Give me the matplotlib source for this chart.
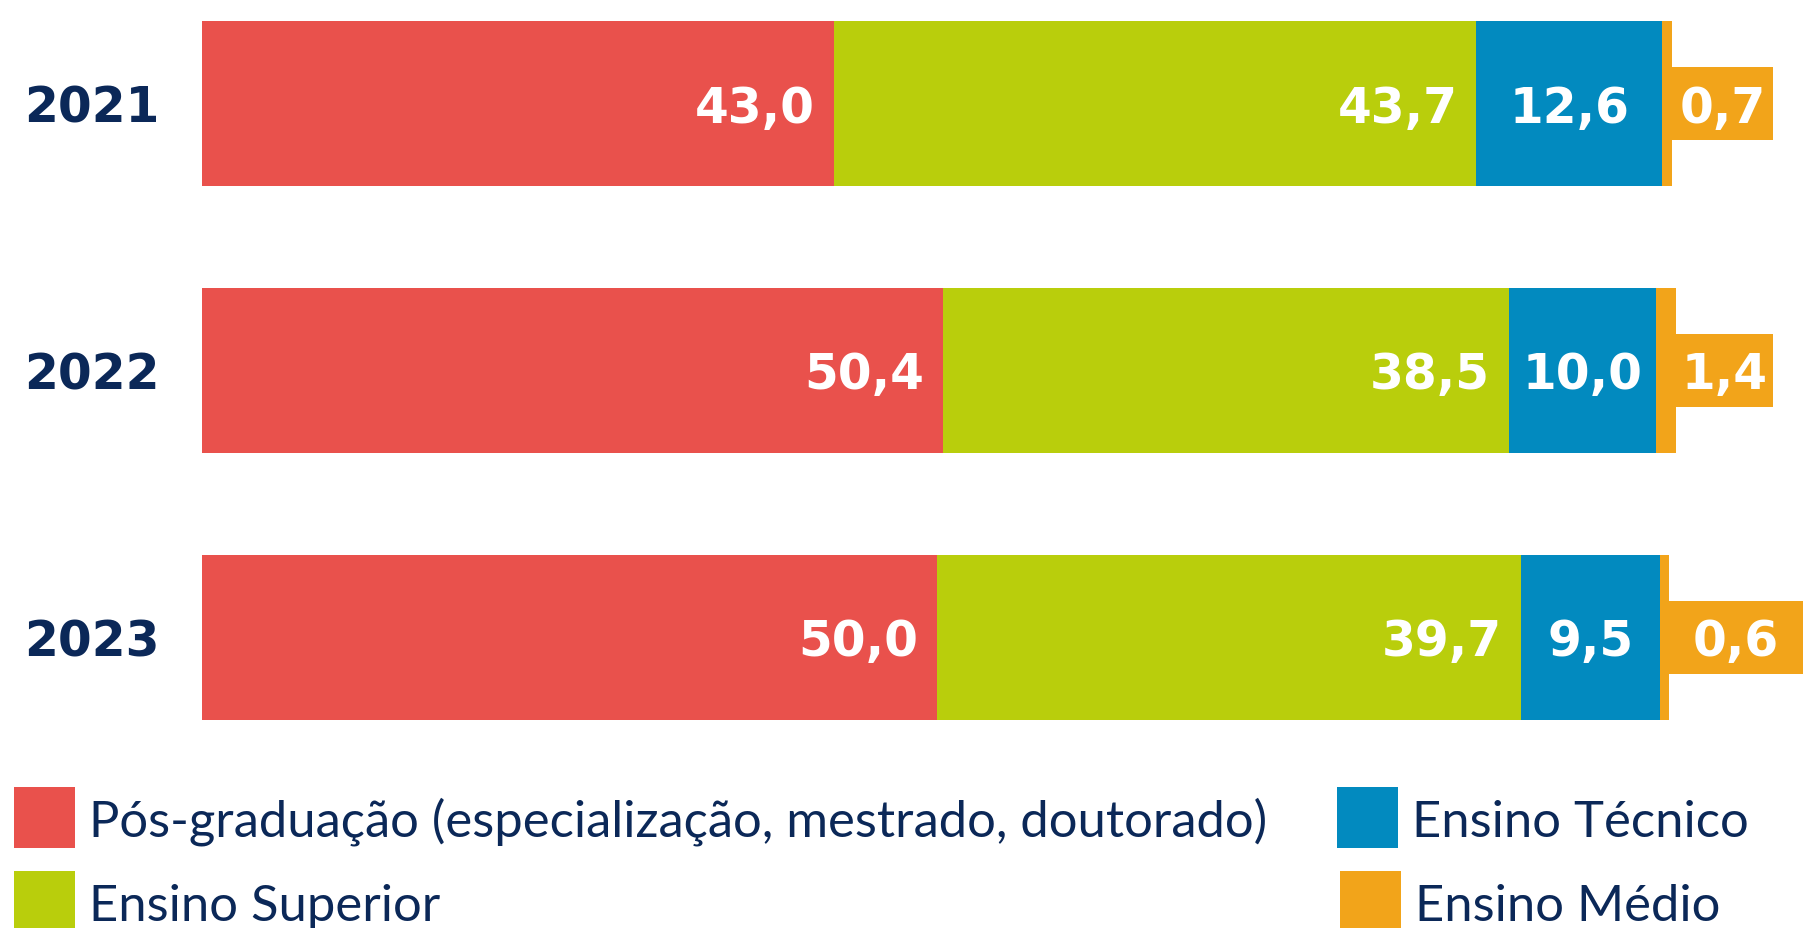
import matplotlib
matplotlib.use("Agg")
import matplotlib.pyplot as plt
import matplotlib.patches as mpatches

# ─── Colours ──────────────────────────────────────────────────────────────
RED    = "#E9514C"
GREEN  = "#B9CE0C"
BLUE   = "#028ABF"
ORANGE = "#F2A41A"
NAVY   = "#0B2858"

# ─── Data ─────────────────────────────────────────────────────────────────
years = ["2021", "2022", "2023"]
categories = [
    "Pós-graduação (especialização, mestrado, doutorado)",
    "Ensino Superior",
    "Ensino Técnico",
    "Ensino Médio",
]
pos_grad = [43.0, 50.4, 50.0]
superior = [43.7, 38.5, 39.7]
tecnico  = [12.6, 10.0, 9.5]
medio    = [0.7, 1.4, 0.6]

series = [pos_grad, superior, tecnico, medio]
colors = [RED, GREEN, BLUE, ORANGE]

# ─── Layout (pixels of the 1803x929 output) ───────────────────────────────
W, H = 1803, 929
PX = 14.7      # pixels per percentage point
X0 = 202       # pixel where 0 % sits
ROW = 267      # pixels between bar centres
Y0 = 104.5     # pixel of first bar centre
BAR_H = 165 / ROW

VAL_FONT = dict(family="DejaVu Sans", fontweight="bold", fontsize=35)
LEG_FONT = dict(family=["Lato", "DejaVu Sans"], fontweight="normal", fontsize=36.5)


def fmt(v):
    return f"{v:.1f}".replace(".", ",")


fig = plt.figure(figsize=(W / 100, H / 100), dpi=100, facecolor="white")
ax = fig.add_axes([0, 0, 1, 1])
ax.set_xlim(-X0 / PX, (W - X0) / PX)
ax.set_ylim((H - Y0) / ROW, -Y0 / ROW)
ax.axis("off")

cap = 36 / 2 / ROW   # half cap height in data units
pad = 19 / PX

ypos = list(range(len(years)))
left = [0.0] * len(years)
for k, (vals, col) in enumerate(zip(series, colors)):
    ax.barh(ypos, vals, left=left, height=BAR_H, color=col, edgecolor="none")
    for i, v in enumerate(vals):
        if k < 2:
            ax.text(left[i] + v - pad, i + cap, fmt(v), color="white",
                    ha="right", va="baseline", **VAL_FONT)
        elif k == 2:
            ax.text(left[i] + v / 2, i + cap, fmt(v), color="white",
                    ha="center", va="baseline", **VAL_FONT)
    left = [l + v for l, v in zip(left, vals)]

# small orange segment -> label in a tab to the right of the bar
box_right = [(1773 - X0) / PX, (1773 - X0) / PX, (W + 10 - X0) / PX]
box_h = 73 / ROW
for i, tot in enumerate(left):
    ax.add_patch(mpatches.Rectangle((tot, i - box_h / 2), box_right[i] - tot, box_h,
                                    facecolor=ORANGE, edgecolor="none"))
    cx = (tot + min(box_right[i], (W - X0) / PX)) / 2
    ax.text(cx, i + cap, fmt(medio[i]), color="white",
            ha="center", va="baseline", **VAL_FONT)

# year labels
for i, y in enumerate(years):
    ax.text((160 - X0) / PX, i + cap, y, color=NAVY,
            ha="right", va="baseline", **VAL_FONT)

# ─── Legend (manual, two columns) ─────────────────────────────────────────
leg_pos = [(14, 788), (14, 872), (1337, 788), (1340, 872)]
sq = 61
for (lx, ly), col, name in zip(leg_pos, colors, categories):
    fig.patches.append(mpatches.Rectangle(
        (lx / W, 1 - (ly + sq) / H), sq / W, sq / H,
        transform=fig.transFigure, facecolor=col, edgecolor="none"))
    fig.text((lx + 75) / W, 1 - (ly + 49) / H, name, color=NAVY,
             ha="left", va="baseline", **LEG_FONT)

fig.savefig("out.png", dpi=100, facecolor="white")
